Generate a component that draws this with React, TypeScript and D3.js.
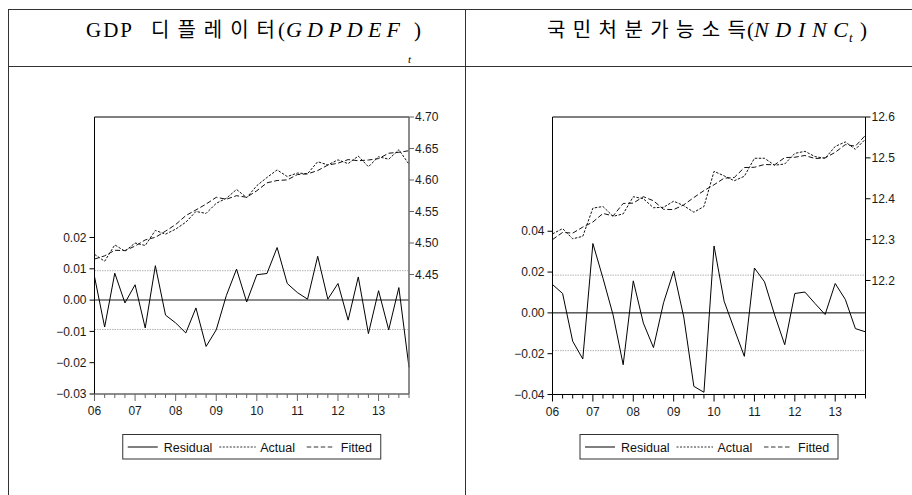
import React from "react";
import * as d3 from "d3";

// ---------- data (quarterly, 2006Q1 .. 2013Q4) ----------
const yearLabels = ["06", "07", "08", "09", "10", "11", "12", "13"];

const gdpResidual = [0.0075, -0.0086, 0.0086, -0.0009, 0.0049, -0.0089, 0.011, -0.0048, -0.0073, -0.0105, -0.0025, -0.0148, -0.0095, 0.0015, 0.0099, -0.0006, 0.0081, 0.0085, 0.0168, 0.0053, 0.0024, 0.0003, 0.014, 0.0003, 0.0053, -0.0064, 0.0074, -0.0107, 0.003, -0.0095, 0.004, -0.0215];
const gdpActual = [4.482, 4.471, 4.497, 4.487, 4.5, 4.496, 4.52, 4.514, 4.522, 4.533, 4.55, 4.547, 4.563, 4.571, 4.585, 4.572, 4.591, 4.604, 4.616, 4.6055, 4.611, 4.61, 4.629, 4.624, 4.632, 4.626, 4.638, 4.621, 4.637, 4.633, 4.648, 4.625];
const gdpFitted = [4.4745, 4.4796, 4.4884, 4.4879, 4.4951, 4.5049, 4.509, 4.5188, 4.5293, 4.5435, 4.5525, 4.5618, 4.5725, 4.5695, 4.5751, 4.5726, 4.5829, 4.5955, 4.5992, 4.6002, 4.6086, 4.6097, 4.615, 4.6237, 4.6267, 4.6324, 4.6306, 4.6317, 4.634, 4.6425, 4.644, 4.6465];
const gdpStd = 0.0094;

const ndResidual = [0.0139, 0.0095, -0.0139, -0.0226, 0.034, 0.017, -0.001, -0.0254, 0.0157, -0.005, -0.017, 0.005, 0.0205, -0.002, -0.036, -0.0389, 0.0328, 0.0057, -0.0079, -0.0213, 0.022, 0.0152, -0.001, -0.0156, 0.0095, 0.0102, 0.0046, -0.0008, 0.0144, 0.0066, -0.0077, -0.0093];
const ndActual = [12.314, 12.327, 12.302, 12.308, 12.377, 12.381, 12.357, 12.363, 12.405, 12.4, 12.378, 12.379, 12.394, 12.383, 12.367, 12.381, 12.467, 12.456, 12.444, 12.455, 12.499, 12.499, 12.482, 12.485, 12.511, 12.516, 12.503, 12.499, 12.528, 12.539, 12.521, 12.546];
const ndFitted = [12.3001, 12.3175, 12.3159, 12.3306, 12.343, 12.364, 12.358, 12.3884, 12.3893, 12.405, 12.395, 12.374, 12.3735, 12.385, 12.403, 12.4199, 12.4342, 12.4503, 12.4519, 12.4763, 12.477, 12.4838, 12.483, 12.5006, 12.5015, 12.5058, 12.4984, 12.4998, 12.5136, 12.5324, 12.5287, 12.5553];
const ndStd = 0.0185;

const gdpResidTicks = [-0.03, -0.02, -0.01, 0, 0.01, 0.02];
const gdpLevelTicks = [4.45, 4.5, 4.55, 4.6, 4.65, 4.7];
const ndResidTicks = [-0.04, -0.02, 0, 0.02, 0.04];
const ndLevelTicks = [12.2, 12.3, 12.4, 12.5, 12.6];

const legendLabels = ["Residual", "Actual", "Fitted"];

const SANS = "'Liberation Sans', Arial, Helvetica, sans-serif";
const SERIF = "'Liberation Serif', 'Times New Roman', serif";
const KR = "'Noto Sans CJK KR', sans-serif";

type PanelProps = {
  left: number; right: number; top: number; bottom: number;
  resid: number[]; actual: number[]; fitted: number[];
  residDomain: [number, number]; levelDomain: [number, number];
  residTicks: number[]; levelTicks: number[];
  residFmt: string; levelFmt: string; std: number;
  axisColor: string; axisWidth: number;
};

function Panel(p: PanelProps) {
  const n = p.resid.length;
  const x = d3.scaleLinear().domain([0, n - 1]).range([p.left, p.right]);
  const yR = d3.scaleLinear().domain(p.residDomain).range([p.bottom, p.top]);
  const yL = d3.scaleLinear().domain(p.levelDomain).range([p.bottom, p.top]);
  const lineR = d3.line<number>().x((_, i) => x(i)).y((d) => yR(d));
  const lineL = d3.line<number>().x((_, i) => x(i)).y((d) => yL(d));
  const fR = d3.format(p.residFmt);
  const fL = d3.format(p.levelFmt);
  const idx = d3.range(n);
  const legX = (p.left + p.right) / 2 - 129;
  return (
    <g>
      {[p.std, -p.std].map((s, k) => (
        <line key={"s" + k} x1={p.left} x2={p.right} y1={yR(s)} y2={yR(s)} stroke="#b4b4b4" strokeWidth={1} strokeDasharray="1.5,1" />
      ))}
      <line x1={p.left} x2={p.right} y1={yR(0)} y2={yR(0)} stroke={p.axisColor} strokeWidth={p.axisWidth} />
      <path d={lineL(p.actual) || ""} fill="none" stroke="#111" strokeWidth={1} strokeDasharray="2.5,1.5" />
      <path d={lineL(p.fitted) || ""} fill="none" stroke="#111" strokeWidth={1} strokeDasharray="5,2.5" />
      <path d={lineR(p.resid) || ""} fill="none" stroke="#000" strokeWidth={1} />
      <line x1={p.left} x2={p.right} y1={p.top} y2={p.top} stroke="#000" strokeWidth={1} />
      <line x1={p.left} x2={p.left} y1={p.top} y2={p.bottom} stroke="#000" strokeWidth={1} />
      <line x1={p.right} x2={p.right} y1={p.top} y2={p.bottom} stroke={p.axisColor} strokeWidth={p.axisWidth} />
      <line x1={p.left} x2={p.right} y1={p.bottom} y2={p.bottom} stroke={p.axisColor} strokeWidth={p.axisWidth} />
      {p.residTicks.map((t) => (
        <g key={"rl" + t}>
          <line x1={p.left - 5} x2={p.left} y1={yR(t)} y2={yR(t)} stroke="#000" strokeWidth={1} />
          <text x={p.left - 8} y={yR(t)} dy="0.35em" textAnchor="end" fontSize={12} fontFamily={SANS} fill="#1a1a1a">
            {fR(t)}
          </text>
        </g>
      ))}
      {p.levelTicks.map((t) => (
        <g key={"ll" + t}>
          <line x1={p.right} x2={p.right + 5} y1={yL(t)} y2={yL(t)} stroke={p.axisColor} strokeWidth={1} />
          <text x={p.right + 6} y={yL(t)} dy="0.35em" textAnchor="start" fontSize={12} fontFamily={SANS} fill="#1a1a1a">
            {fL(t)}
          </text>
        </g>
      ))}
      {idx.map((i) => (
        <line key={"xt" + i} x1={x(i)} x2={x(i)} y1={p.bottom} y2={p.bottom + (i % 4 === 0 ? 7 : 4)} stroke={p.axisColor} strokeWidth={1} />
      ))}
      {yearLabels.map((lab, k) => (
        <text key={"xl" + k} x={x(k * 4)} y={p.bottom + 21} textAnchor="middle" fontSize={12} fontFamily={SANS} fill="#1a1a1a">
          {lab}
        </text>
      ))}
      <g transform={`translate(${legX},434.5)`}>
        <rect x={0} y={0} width={258} height={24.5} fill="#fff" stroke="#333" strokeWidth={1} />
        <line x1={5} x2={35} y1={12.5} y2={12.5} stroke="#000" strokeWidth={1} />
        <text x={41} y={17} fontSize={12.5} fontFamily={SANS} fill="#111">{legendLabels[0]}</text>
        <line x1={96.5} x2={133} y1={12.5} y2={12.5} stroke="#333" strokeWidth={1} strokeDasharray="2,1.5" />
        <text x={137.5} y={17} fontSize={12.5} fontFamily={SANS} fill="#111">{legendLabels[1]}</text>
        <line x1={184} x2={211} y1={12.5} y2={12.5} stroke="#333" strokeWidth={1} strokeDasharray="4.5,2.5" />
        <text x={218} y={17} fontSize={12.5} fontFamily={SANS} fill="#111">{legendLabels[2]}</text>
      </g>
    </g>
  );
}

export default function App() {
  return (
    <svg width={912} height={495} viewBox="0 0 912 495" style={{ position: "absolute", left: 0, top: 0, background: "#fff" }}>
      <rect x={0} y={0} width={912} height={495} fill="#fff" />
      <line x1={8} x2={912} y1={9.5} y2={9.5} stroke="#333" strokeWidth={1} />
      <line x1={8} x2={912} y1={66.5} y2={66.5} stroke="#333" strokeWidth={1} />
      <line x1={8.5} x2={8.5} y1={9} y2={495} stroke="#333" strokeWidth={1} />
      <line x1={465.5} x2={465.5} y1={9} y2={495} stroke="#333" strokeWidth={1} />

      <g fill="#000">
        <text x={86} y={37} fontSize={21} fontFamily={SERIF} textLength={46} lengthAdjust="spacing">GDP</text>
        <text x={151} y={37} fontSize={20} fontFamily={KR} textLength={124} lengthAdjust="spacing">디플레이터</text>
        <text x={278} y={37} fontSize={21} fontFamily={SERIF}>(</text>
        <text x={286} y={37} fontSize={22} fontFamily={SERIF} fontStyle="italic" textLength={114} lengthAdjust="spacing">GDPDEF</text>
        <text x={408} y={63} fontSize={11} fontFamily={SERIF} fontStyle="italic">t</text>
        <text x={414} y={37} fontSize={21} fontFamily={SERIF}>)</text>

        <text x={547} y={37} fontSize={20} fontFamily={KR} textLength={199} lengthAdjust="spacing">국민처분가능소득</text>
        <text x={747} y={37} fontSize={21} fontFamily={SERIF}>(</text>
        <text x={754} y={37} fontSize={22} fontFamily={SERIF} fontStyle="italic" textLength={94} lengthAdjust="spacing">NDINC</text>
        <text x={849} y={42} fontSize={13} fontFamily={SERIF} fontStyle="italic">t</text>
        <text x={860} y={37} fontSize={21} fontFamily={SERIF}>)</text>
      </g>

      <Panel
        left={94.5} right={409} top={117} bottom={394}
        resid={gdpResidual} actual={gdpActual} fitted={gdpFitted}
        residDomain={[-0.03, 0.0585]} levelDomain={[4.2603, 4.7]}
        residTicks={gdpResidTicks} levelTicks={gdpLevelTicks}
        residFmt=".2f" levelFmt=".2f" std={gdpStd}
        axisColor="#666" axisWidth={1.5}
      />
      <Panel
        left={552.5} right={865.5} top={117} bottom={394.5}
        resid={ndResidual} actual={ndActual} fitted={ndFitted}
        residDomain={[-0.04, 0.096]} levelDomain={[11.921, 12.6]}
        residTicks={ndResidTicks} levelTicks={ndLevelTicks}
        residFmt=".2f" levelFmt=".1f" std={ndStd}
        axisColor="#000" axisWidth={1}
      />
    </svg>
  );
}
